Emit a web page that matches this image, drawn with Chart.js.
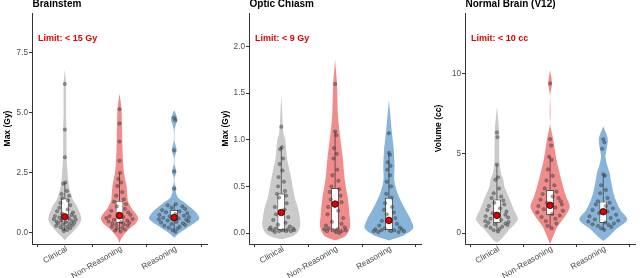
<!DOCTYPE html>
<html><head><meta charset="utf-8">
<script src="https://cdn.jsdelivr.net/npm/chart.js@4.4.1/dist/chart.umd.min.js"></script>
<style>
html,body{margin:0;padding:0;background:#fff;width:640px;height:278px;overflow:hidden}
canvas{position:absolute;top:0}
</style></head><body>
<canvas id="p0" width="213" height="278" style="left:0px"></canvas>
<canvas id="p1" width="213" height="278" style="left:213px"></canvas>
<canvas id="p2" width="214" height="278" style="left:426px"></canvas>
<script>
// ---------- data ----------
const categories = ['Clinical', 'Non-Reasoning', 'Reasoning'];
const panelTitles = ['Brainstem', 'Optic Chiasm', 'Normal Brain (V12)'];
const yTitles = ['Max (Gy)', 'Max (Gy)', 'Volume (cc)'];
const limitLabels = ['Limit: < 15 Gy', 'Limit: < 9 Gy', 'Limit: < 10 cc'];
const yTickValues = [[0, 2.5, 5, 7.5], [0, 0.5, 1, 1.5, 2], [0, 5, 10]];
const yTickLabels = [['0.0', '2.5', '5.0', '7.5'], ['0.0', '0.5', '1.0', '1.5', '2.0'], ['0', '5', '10']];
const yDomains = [[-0.46, 9.15], [-0.118, 2.361], [-0.69, 13.83]];

// violin outlines: [value, half-width in category units]
const bsViolinClinical = [[-0.3,0],[-0.2,0.04],[0.12,0.18],[0.35,0.26],[0.54,0.30],[0.75,0.29],[0.96,0.25],[1.2,0.2],[1.375,0.15],[1.7,0.1],[2.08,0.066],[2.5,0.05],[3.0,0.035],[3.5,0.03],[4.3,0.03],[5.0,0.022],[6.2,0.022],[6.8,0]];
const bsViolinNonReasoning = [[-0.42,0],[-0.2,0.04],[0.17,0.18],[0.4,0.3],[0.6,0.34],[0.8,0.3],[0.96,0.24],[1.2,0.18],[1.375,0.15],[1.94,0.13],[2.4,0.09],[2.8,0.07],[3.5,0.055],[4.5,0.045],[5.2,0.035],[5.8,0]];
const bsViolinReasoning = [[-0.2,0],[-0.03,0.08],[0.32,0.31],[0.6,0.46],[0.88,0.39],[1.1,0.28],[1.25,0.2],[1.4,0.1],[1.51,0.06],[1.7,0.03],[1.85,0.04],[2.05,0.01],[2.3,0.008],[2.55,0.04],[2.85,0.008],[3.15,0.008],[3.45,0.045],[3.8,0.008],[4.3,0.008],[4.5,0.03],[4.72,0.06],[4.95,0.03],[5.1,0]];
const ocViolinClinical = [[-0.07,0],[-0.02,0.26],[0.07,0.35],[0.18,0.34],[0.29,0.3],[0.36,0.26],[0.5,0.21],[0.57,0.19],[0.71,0.14],[0.79,0.11],[1.0,0.073],[1.07,0.04],[1.25,0.02],[1.48,0]];
const ocViolinNonReasoning = [[-0.08,0],[-0.03,0.2],[0.07,0.28],[0.18,0.27],[0.36,0.24],[0.57,0.18],[0.79,0.145],[1.0,0.1],[1.25,0.055],[1.6,0.036],[1.86,0]];
const ocViolinReasoning = [[-0.08,0],[-0.03,0.26],[0.05,0.45],[0.14,0.41],[0.29,0.27],[0.43,0.16],[0.57,0.1],[0.71,0.105],[0.89,0.09],[1.0,0.07],[1.14,0.045],[1.43,0]];
const nbViolinClinical = [[-0.6,0],[-0.42,0.07],[0.21,0.23],[0.84,0.39],[1.46,0.32],[2.3,0.22],[2.93,0.14],[3.35,0.12],[3.77,0.075],[4.6,0.045],[5.86,0.045],[6.5,0.04],[7.95,0]];
const nbViolinNonReasoning = [[-0.7,0],[-0.21,0.06],[0.42,0.145],[1.05,0.28],[1.67,0.37],[2.3,0.3],[3.35,0.21],[4.6,0.12],[5.86,0.06],[6.9,0],[8.6,0],[9.4,0.035],[10.25,0]];
const nbViolinReasoning = [[-0.5,0],[-0.32,0.07],[0.21,0.23],[0.84,0.45],[1.46,0.32],[2.3,0.21],[3.35,0.14],[3.77,0.12],[4.18,0.08],[4.8,0.04],[5.0,0.05],[5.86,0.085],[6.3,0.05],[6.7,0]];

// individual observations: [value, horizontal spread offset]
const bsPointsClinical = [[6.2,0],[4.3,0],[3.15,0],[2.1,0.01],[2.05,-0.03],[1.75,0.04],[1.62,-0.06],[1.55,0.08],[1.45,-0.05],[1.35,0.06],[1.25,-0.08],[1.15,0.1],[1.05,-0.1],[0.98,0.05],[0.9,-0.14],[0.85,0.15],[0.8,-0.05],[0.75,0.12],[0.7,-0.18],[0.68,0.18],[0.64,-0.1],[0.6,0.08],[0.57,-0.2],[0.55,0.2],[0.52,-0.07],[0.5,0.13],[0.47,-0.15],[0.45,0.02],[0.42,0.17],[0.4,-0.12],[0.37,0.09],[0.35,-0.04],[0.32,0.14],[0.3,-0.16],[0.27,0.05],[0.24,-0.08],[0.2,0.1],[0.17,-0.03],[0.12,0.04],[0.08,-0.02]];
const bsPointsNonReasoning = [[5.15,0],[4.55,0],[3.8,0],[3.0,0],[2.5,0.01],[2.25,-0.02],[2.1,0.03],[1.95,-0.04],[1.7,0.05],[1.55,-0.06],[1.4,0.08],[1.3,-0.1],[1.2,0.12],[1.1,-0.05],[1.0,0.1],[0.92,-0.15],[0.85,0.16],[0.8,-0.02],[0.75,0.2],[0.7,-0.18],[0.66,0.07],[0.62,-0.24],[0.58,0.24],[0.55,-0.1],[0.52,0.14],[0.48,-0.2],[0.45,0.03],[0.42,0.18],[0.4,-0.13],[0.36,0.08],[0.33,-0.06],[0.3,0.15],[0.26,-0.14],[0.22,0.05],[0.18,-0.05],[0.14,0.1],[0.1,-0.08],[0.06,0.02]];
const bsPointsReasoning = [[4.79,0],[4.69,0.02],[3.44,0],[2.56,0],[1.85,0],[1.2,0.03],[1.15,-0.12],[1.1,0.15],[1.05,-0.05],[1.0,0.2],[0.95,-0.22],[0.9,0.1],[0.86,-0.15],[0.82,0.24],[0.78,0.02],[0.75,-0.27],[0.72,0.18],[0.69,-0.08],[0.66,0.27],[0.63,-0.2],[0.6,0.08],[0.57,-0.28],[0.55,0.22],[0.52,-0.12],[0.49,0.26],[0.46,0.04],[0.43,-0.24],[0.4,0.16],[0.37,-0.05],[0.33,0.2],[0.3,-0.18],[0.26,0.1],[0.22,-0.1],[0.18,0.06],[0.12,-0.03],[0.05,0.02]];
const ocPointsClinical = [[1.14,0],[0.92,0.01],[0.9,-0.02],[0.8,0.03],[0.74,-0.03],[0.67,0.02],[0.6,-0.05],[0.55,0.05],[0.5,-0.06],[0.45,0.07],[0.42,-0.08],[0.4,0.09],[0.38,-0.04],[0.32,0.1],[0.28,-0.12],[0.25,0.06],[0.2,-0.1],[0.17,0.13],[0.14,-0.15],[0.11,0.08],[0.09,-0.06],[0.07,0.16],[0.06,-0.2],[0.05,0.22],[0.05,-0.1],[0.04,0.12],[0.04,-0.22],[0.03,0.04],[0.03,0.24],[0.03,-0.16],[0.02,0.18],[0.02,-0.04],[0.02,0.09],[0.01,-0.12]];
const ocPointsNonReasoning = [[1.6,0],[1.09,0],[1.05,0.02],[0.91,-0.02],[0.85,0.03],[0.8,-0.03],[0.68,0.04],[0.62,-0.05],[0.56,0.06],[0.5,-0.07],[0.47,0.08],[0.44,-0.1],[0.4,0.1],[0.36,-0.08],[0.33,0.12],[0.28,-0.13],[0.24,0.06],[0.2,-0.14],[0.16,0.15],[0.12,-0.06],[0.1,0.12],[0.08,-0.17],[0.06,0.18],[0.05,-0.12],[0.04,0.05],[0.04,-0.2],[0.03,0.2],[0.03,-0.05],[0.02,0.12],[0.02,-0.15],[0.01,0.02],[0.0,0.08]];
const ocPointsReasoning = [[1.07,0],[0.86,0],[0.84,0.02],[0.76,-0.02],[0.72,0.03],[0.68,-0.03],[0.62,0.02],[0.55,-0.04],[0.5,0.04],[0.42,-0.05],[0.38,0.05],[0.32,-0.07],[0.28,0.06],[0.25,-0.09],[0.22,0.09],[0.2,-0.04],[0.16,0.12],[0.13,-0.13],[0.1,0.15],[0.08,-0.18],[0.06,0.2],[0.05,-0.08],[0.04,0.24],[0.04,-0.25],[0.03,0.1],[0.03,-0.14],[0.02,0.28],[0.02,-0.28],[0.02,0.04],[0.01,0.18],[0.01,-0.2]];
const nbPointsClinical = [[6.32,0],[6.03,0.01],[4.3,0],[3.5,0.02],[3.35,-0.03],[2.8,0.04],[2.5,-0.06],[2.3,0.08],[2.2,-0.1],[2.05,0.12],[1.9,-0.05],[1.8,0.14],[1.7,-0.15],[1.55,0.06],[1.45,-0.18],[1.35,0.18],[1.25,-0.08],[1.15,0.16],[1.05,-0.21],[0.98,0.21],[0.9,-0.12],[0.82,0.08],[0.75,-0.22],[0.7,0.22],[0.65,-0.16],[0.6,0.16],[0.55,-0.04],[0.5,0.2],[0.45,-0.2],[0.4,0.1],[0.33,-0.12],[0.25,0.05],[0.18,-0.06],[0.1,0.02]];
const nbPointsNonReasoning = [[9.4,0],[5.9,0],[5.5,0.02],[4.8,-0.02],[4.6,0.03],[4.0,-0.04],[3.6,0.05],[3.3,-0.07],[3.0,0.08],[2.8,-0.1],[2.6,0.12],[2.45,-0.14],[2.3,0.05],[2.2,0.16],[2.1,-0.18],[2.0,0.2],[1.9,-0.06],[1.8,0.22],[1.7,-0.22],[1.6,0.1],[1.5,-0.12],[1.4,0.24],[1.3,-0.24],[1.2,0.04],[1.1,0.18],[1.0,-0.16],[0.9,0.1],[0.75,-0.08],[0.6,0.12],[0.45,-0.05],[0.3,0.03]];
const nbPointsReasoning = [[5.9,0],[5.7,0.02],[5.3,-0.02],[3.7,0],[3.6,0.03],[3.0,-0.04],[2.7,0.05],[2.5,-0.06],[2.2,0.08],[2.0,-0.1],[1.9,0.12],[1.8,-0.14],[1.7,0.05],[1.55,0.18],[1.45,-0.2],[1.35,0.08],[1.25,-0.08],[1.15,0.24],[1.05,-0.26],[0.95,0.14],[0.85,-0.16],[0.78,0.28],[0.72,-0.28],[0.66,0.04],[0.6,0.2],[0.55,-0.2],[0.5,0.1],[0.45,-0.1],[0.38,0.15],[0.3,-0.04],[0.2,0.02]];

// box summaries: [lower whisker, Q1, Q3, upper whisker] per category
const bsBoxes = [[0.08,0.46,1.42,2.1],[0.06,0.44,1.32,2.5],[0.05,0.53,0.94,1.2]];
const ocBoxes = [[0.01,0.035,0.42,0.92],[0.0,0.043,0.48,1.09],[0.01,0.035,0.375,0.86]];
const nbBoxes = [[0.1,0.67,2.09,4.3],[0.3,1.15,2.68,4.8],[0.2,0.67,1.95,3.7]];
// red summary markers
const bsCenters = [0.67, 0.72, 0.64];
const ocCenters = [0.22, 0.31, 0.135];
const nbCenters = [1.11, 1.74, 1.34];

// ---------- styling / layout ----------
const violinColors = ['#cacaca', '#f08c8c', '#87b4d8'];
const FONT = "'Liberation Sans', Arial, sans-serif";
const layouts = [
  {axisW: 32, rightPad: 6, yTitlePad: 2.4},
  {axisW: 36, rightPad: 1, yTitlePad: 7.6},
  {axisW: 39, rightPad: 0, yTitlePad: 7.6}
];

const panelViolins = [
  [bsViolinClinical, bsViolinNonReasoning, bsViolinReasoning],
  [ocViolinClinical, ocViolinNonReasoning, ocViolinReasoning],
  [nbViolinClinical, nbViolinNonReasoning, nbViolinReasoning]
];
const panelPoints = [
  [bsPointsClinical, bsPointsNonReasoning, bsPointsReasoning],
  [ocPointsClinical, ocPointsNonReasoning, ocPointsReasoning],
  [nbPointsClinical, nbPointsNonReasoning, nbPointsReasoning]
];
const panelBoxes = [bsBoxes, ocBoxes, nbBoxes];
const panelCenters = [bsCenters, ocCenters, nbCenters];

const panelText = {
  id: 'panelText',
  afterDraw(chart, args, opts) {
    const {ctx, chartArea} = chart;
    ctx.save();
    ctx.textAlign = 'left';
    ctx.textBaseline = 'alphabetic';
    ctx.fillStyle = '#000';
    ctx.font = 'bold 10px ' + FONT;
    ctx.fillText(opts.title, chartArea.left + 0.5, chartArea.top - 6.5);
    ctx.fillStyle = '#e00000';
    ctx.font = 'bold 9px ' + FONT;
    ctx.textBaseline = 'middle';
    ctx.fillText(opts.limit, chartArea.left + 6, chartArea.top + 25.5);
    ctx.restore();
  }
};

function buildPanel(p) {
  const datasets = [];
  const cx = [1, 2, 3];
  panelViolins[p].forEach((prof, i) => {
    const c = cx[i];
    datasets.push({
      type: 'line', indexAxis: 'y', order: 10,
      data: prof.map(([v, w]) => ({x: c - w, y: v})),
      fill: '+1', backgroundColor: violinColors[i], borderWidth: 0, borderColor: 'rgba(0,0,0,0)',
      pointRadius: 0, tension: 0.3
    });
    datasets.push({
      type: 'line', indexAxis: 'y', order: 10,
      data: prof.map(([v, w]) => ({x: c + w, y: v})),
      fill: false, borderWidth: 0, borderColor: 'rgba(0,0,0,0)',
      pointRadius: 0, tension: 0.3
    });
  });
  panelBoxes[p].forEach((b, i) => {
    const c = cx[i];
    datasets.push({type: 'line', order: 9, data: [{x: c, y: b[0]}, {x: c, y: b[1]}],
      borderColor: '#333', borderWidth: 0.7, pointRadius: 0, fill: false});
    datasets.push({type: 'line', order: 9, data: [{x: c, y: b[2]}, {x: c, y: b[3]}],
      borderColor: '#333', borderWidth: 0.7, pointRadius: 0, fill: false});
  });
  datasets.push({
    type: 'bar', order: 8, grouped: false,
    data: panelBoxes[p].map((b, i) => ({x: cx[i], y: [b[1], b[2]]})),
    backgroundColor: '#ffffff', borderColor: '#222', borderWidth: 0.7, borderSkipped: false,
    barThickness: 7
  });
  panelPoints[p].forEach((pts, i) => {
    const c = cx[i];
    datasets.push({
      type: 'scatter', order: 2,
      data: pts.map(([v, dx]) => ({x: c + dx, y: v})),
      pointRadius: 1.7, backgroundColor: 'rgba(70,70,70,0.5)', borderColor: 'rgba(40,40,40,0.55)', borderWidth: 0.5
    });
  });
  datasets.push({
    type: 'scatter', order: 1,
    data: panelCenters[p].map((m, i) => ({x: cx[i], y: m})),
    pointRadius: 3.3, backgroundColor: '#e00000', borderColor: '#111', borderWidth: 0.8
  });

  const L = layouts[p];
  return new Chart(document.getElementById('p' + p), {
    type: 'scatter',
    data: {datasets},
    plugins: [panelText],
    options: {
      responsive: false, animation: false, devicePixelRatio: 1, events: [],
      layout: {padding: {top: 13, right: L.rightPad, bottom: 0, left: 0}},
      plugins: {legend: {display: false}, tooltip: {enabled: false},
        panelText: {title: panelTitles[p], limit: limitLabels[p]}},
      scales: {
        x: {
          type: 'linear', min: 0.4, max: 3.6, offset: false,
          afterBuildTicks: s => { s.ticks = cx.map(v => ({value: v})); },
          afterFit: s => { s.height = 34; },
          ticks: {callback: (v, idx) => categories[idx], minRotation: 30, maxRotation: 30, autoSkip: false,
            font: {family: FONT, size: 8.2}, color: '#4d4d4d', padding: -3, labelOffset: 2},
          grid: {display: true, drawOnChartArea: false, drawTicks: true, tickLength: 3, color: '#333', lineWidth: 1},
          border: {display: true, color: '#333', width: 1}
        },
        y: {
          type: 'linear', min: yDomains[p][0], max: yDomains[p][1],
          afterBuildTicks: s => { s.ticks = yTickValues[p].map(v => ({value: v})); },
          afterFit: s => { s.width = L.axisW; },
          ticks: {callback: (v, idx) => yTickLabels[p][idx], font: {family: FONT, size: 8.2}, color: '#4d4d4d', padding: 1},
          grid: {display: true, drawOnChartArea: false, drawTicks: true, tickLength: 3, color: '#333', lineWidth: 1},
          border: {display: true, color: '#333', width: 1},
          title: {display: true, text: yTitles[p], color: '#000', font: {family: FONT, size: 8.5, weight: 'bold'},
            padding: {top: L.yTitlePad, bottom: 0}}
        }
      }
    }
  });
}
[0, 1, 2].forEach(buildPanel);
</script>
</body></html>
